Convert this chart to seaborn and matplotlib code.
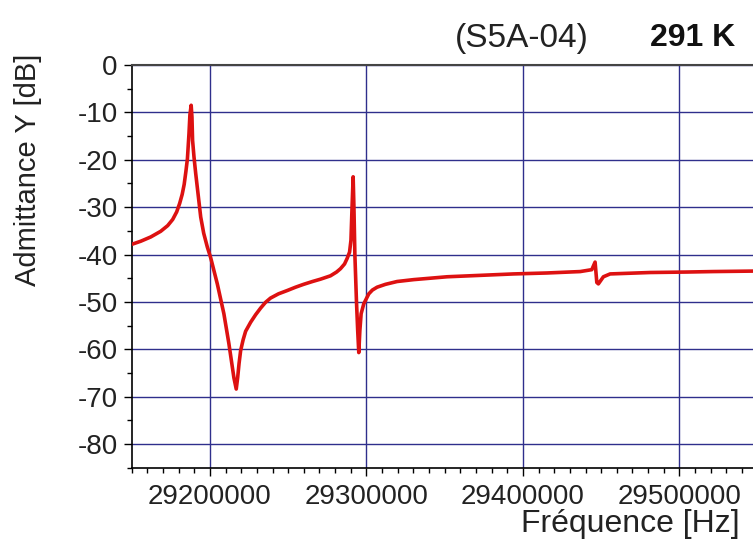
import numpy as np
import pandas as pd
import seaborn as sns
import matplotlib.pyplot as plt
from matplotlib.ticker import MultipleLocator

# values
freq_hz = [29150500, 29155770, 29162150, 29168540, 29173000, 29176200, 29178750,
           29180660, 29182260, 29183530, 29184620, 29185600, 29186600, 29187200,
           29188000, 29188500, 29188900,
           29189800, 29190900, 29192500, 29194100, 29196000, 29198300, 29200400,
           29204700, 29208900, 29212100, 29215300, 29216800, 29217700, 29218600,
           29219600, 29221200, 29222800, 29226000, 29229200, 29232400, 29235500,
           29238700, 29243800, 29249400, 29254700, 29259800, 29265500, 29270700,
           29277000, 29280900, 29283400, 29286000, 29287700, 29289200, 29290100,
           29290800, 29291500, 29292000, 29292600, 29293600, 29294400, 29295100,
           29295800, 29296600, 29298300, 29301500, 29303800, 29306800, 29312100,
           29319600, 29330200, 29340900, 29351500, 29372800, 29394000, 29415300,
           29436600, 29444000, 29446100, 29447200, 29448200, 29451400, 29455700,
           29481200, 29504700, 29521400, 29547000]
admittance_db = [-37.8, -37.2, -36.3, -35.1, -33.9, -32.6, -31.0,
                 -29.2, -27.3, -25.2, -22.5, -19.8, -14.5, -10.5,
                 -8.5, -11.0, -15.9,
                 -19.4, -22.9, -27.5, -32.1, -35.5, -38.4, -40.6,
                 -46.2, -52.5, -58.8, -66.0, -68.4, -66.0, -63.0,
                 -60.3, -58.0, -56.2, -54.3, -52.7, -51.3, -50.1,
                 -49.2, -48.3, -47.6, -46.9, -46.3, -45.7, -45.2,
                 -44.5, -43.7, -43.0, -42.0, -40.8, -39.5, -37.0,
                 -30.0, -23.6, -30.0, -40.0, -49.7, -56.0, -60.7,
                 -56.0, -52.5, -50.4, -48.3, -47.5, -46.9, -46.3,
                 -45.7, -45.3, -45.0, -44.7, -44.4, -44.1, -43.9,
                 -43.6, -43.2, -41.6, -45.9, -46.2, -44.7, -44.1,
                 -43.8, -43.7, -43.6, -43.5]
x_ticks = [29200000, 29300000, 29400000, 29500000]
y_ticks = [0, -10, -20, -30, -40, -50, -60, -70, -80]

df = pd.DataFrame({'freq': freq_hz, 'Y': admittance_db})

sns.set_style('ticks')
plt.rcParams['font.family'] = ['Liberation Sans', 'DejaVu Sans']
plt.rcParams['axes.unicode_minus'] = False

fig = plt.figure(figsize=(7.53, 5.40), dpi=100)
ax = fig.add_axes([131.7 / 753, 72.3 / 540, (753 - 131.7) / 753, 402.7 / 540])

grid_col = '#2f2f8c'
sns.lineplot(data=df, x='freq', y='Y', color='#dd1111', linewidth=2.6, ax=ax, zorder=3)

ax.set_xlim(29150000, 29547000)
ax.set_ylim(-85, 0)
ax.set_xticks(x_ticks)
ax.set_xticklabels([str(t) for t in x_ticks])
ax.set_yticks(y_ticks)
ax.xaxis.set_minor_locator(MultipleLocator(10000))
ax.yaxis.set_minor_locator(MultipleLocator(5))
ax.grid(True, which='major', color=grid_col, linewidth=1.0)
ax.set_axisbelow(True)

ax.tick_params(axis='both', which='major', direction='out', length=6, width=1,
               color='black', labelsize=20, labelcolor='#222222')
ax.tick_params(axis='x', which='major', pad=6)
ax.tick_params(axis='y', which='major', pad=4)
ax.tick_params(axis='both', which='minor', direction='out', length=3.5, width=1, color='black')

for side in ['left', 'bottom']:
    ax.spines[side].set_color('black')
    ax.spines[side].set_linewidth(1.2)
ax.spines['top'].set_visible(True)
ax.spines['top'].set_color('#444444')
ax.spines['top'].set_linewidth(1.5)
ax.spines['right'].set_visible(False)

ax.set_xlabel('')
ax.set_ylabel('')
fig.text(28 / 753, 1 - 170 / 540, 'Admittance Y [dB]', rotation=90, ha='center', va='center',
         fontsize=21, color='#222222')
fig.text(740 / 753, 1 - 524 / 540, 'Fréquence [Hz]', ha='right', va='center',
         fontsize=23, color='#222222')
fig.text(455 / 753, 1 - 38 / 540, '(S5A-04)', ha='left', va='center', fontsize=24, color='#222222')
fig.text(735 / 753, 1 - 38 / 540, '291 K', ha='right', va='center', fontsize=23,
         fontweight='bold', color='#111111')

fig.savefig('out.png', dpi=100)
